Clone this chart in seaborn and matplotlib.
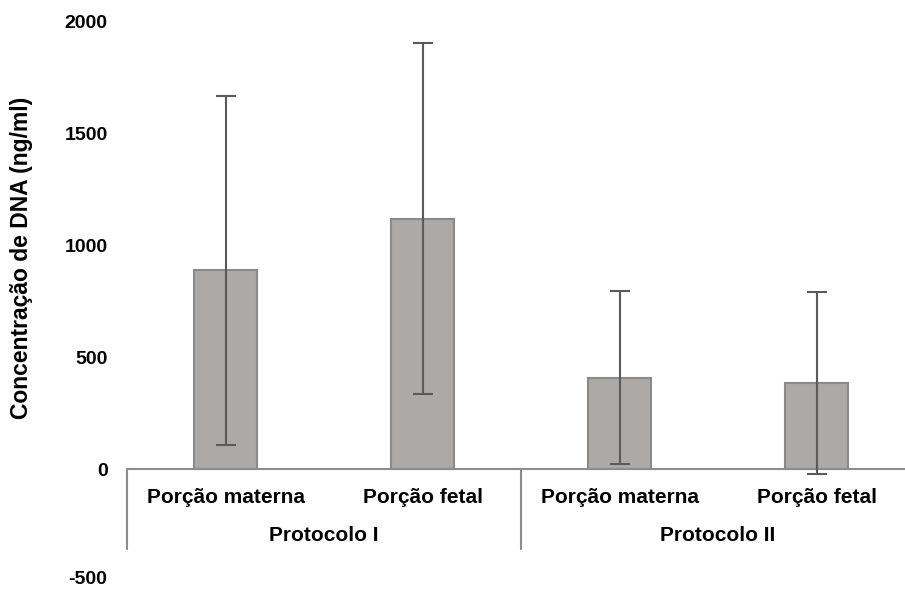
import matplotlib
matplotlib.use("Agg")
import matplotlib.pyplot as plt
import matplotlib.transforms as mtransforms
import seaborn as sns
import pandas as pd
import numpy as np

sns.set_theme(style="white")
plt.rcParams['font.family'] = ['Liberation Sans', 'DejaVu Sans']
plt.rcParams['text.color'] = 'black'
plt.rcParams['axes.labelcolor'] = 'black'
plt.rcParams['ytick.color'] = 'black'

groups = ["Protocolo I", "Protocolo I", "Protocolo II", "Protocolo II"]
portions = ["Porção materna", "Porção fetal", "Porção materna", "Porção fetal"]
means = [890, 1120, 410, 385]
errors = [780, 785, 385, 408]
yticks = [-500, 0, 500, 1000, 1500, 2000]

df = pd.DataFrame({"key": [f"{g}|{p}" for g, p in zip(groups, portions)],
                   "group": groups, "portion": portions, "value": means})

fig = plt.figure(figsize=(9.05, 5.89), dpi=100)
ax = fig.add_axes([127/905, 8/589, (915-127)/905, (581-22)/589])

sns.barplot(data=df, x="key", y="value", ax=ax, color="#ADA9A7", width=0.32,
            edgecolor="#8A8A8A", linewidth=1.5, saturation=1, errorbar=None)
xs = np.arange(len(means))
ax.errorbar(xs, means, yerr=errors, fmt="none", ecolor="#5A5A5A",
            elinewidth=1.5, capsize=7.5, capthick=1.5, zorder=5)

ax.set_ylim(-500, 2000)
ax.set_xlim(-0.5, 3.5)
ax.set_yticks(yticks)
ax.set_yticklabels([str(t) for t in yticks], fontsize=14, fontweight="bold", color="black")
ax.tick_params(axis="y", length=0, pad=14)
# nudge the lowest label up slightly so it stays inside the figure
lab = ax.get_yticklabels()[0]
lab.set_transform(lab.get_transform() + mtransforms.ScaledTranslation(0, 3/100, fig.dpi_scale_trans))
ax.set_xticks([])
ax.set_xlabel("")
ax.set_ylabel("Concentração de DNA (ng/ml)", fontsize=16.5, fontweight="bold", color="black")
ax.yaxis.set_label_coords(-0.119, 0.578)
for s in ax.spines.values():
    s.set_visible(False)

ax.axhline(0, color="#8C8C8C", lw=1.5, zorder=1)
for xv in [-0.5, 1.5, 3.5]:
    ax.plot([xv, xv], [0, -355], color="#8C8C8C", lw=1.5, clip_on=False)

for x, p in zip(xs, portions):
    ax.text(x, -125, p, ha="center", va="center", fontsize=15, fontweight="bold",
            color="#000000")
gnames = list(dict.fromkeys(groups))
for gname in gnames:
    idx = [i for i, g in enumerate(groups) if g == gname]
    ax.text(np.mean(idx), -295, gname, ha="center", va="center", fontsize=15,
            fontweight="bold", color="#000000")

fig.savefig("out.png", dpi=100)
